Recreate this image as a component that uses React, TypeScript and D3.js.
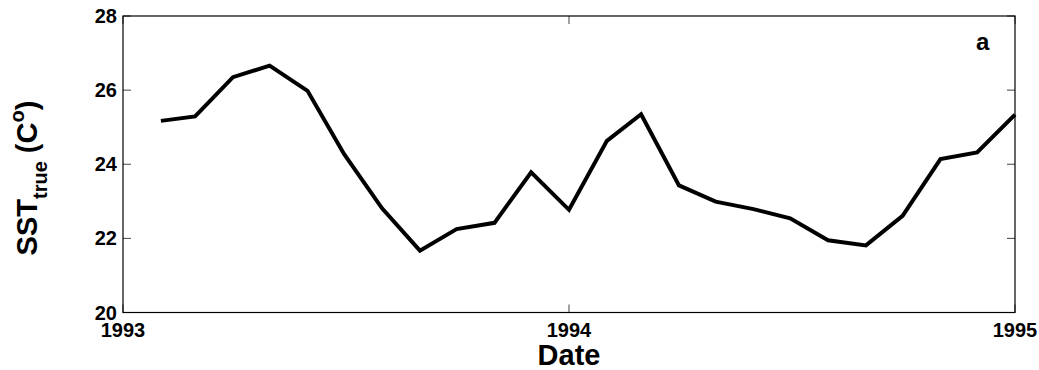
import React from "react";
import * as d3 from "d3";

const dates = [
  "1993-02", "1993-03", "1993-04", "1993-05", "1993-06", "1993-07",
  "1993-08", "1993-09", "1993-10", "1993-11", "1993-12", "1994-01",
  "1994-02", "1994-03", "1994-04", "1994-05", "1994-06", "1994-07",
  "1994-08", "1994-09", "1994-10", "1994-11", "1994-12", "1995-01",
];
const sst = [
  25.17, 25.29, 26.35, 26.66, 25.98, 24.27,
  22.81, 21.67, 22.25, 22.42, 23.78, 22.77,
  24.63, 25.35, 23.43, 22.99, 22.79, 22.54,
  21.95, 21.81, 22.61, 24.14, 24.32, 25.34,
];
const xTickLabels = ["1993", "1994", "1995"];
const yTicks = [20, 22, 24, 26, 28];

const W = 1039;
const H = 370;
const M = { left: 123, right: 1015, top: 16, bottom: 312.5 };
const FONT = "'Liberation Sans', Arial, Helvetica, sans-serif";

export default function App() {
  const parse = d3.timeParse("%Y-%m");
  const parseY = d3.timeParse("%Y");
  const pts = dates.map((d, i) => ({ t: parse(d) as Date, v: sst[i] }));
  const xTicks = xTickLabels.map((s) => parseY(s) as Date);

  const x = d3
    .scaleTime()
    .domain([xTicks[0], xTicks[xTicks.length - 1]])
    .range([M.left, M.right]);
  const y = d3.scaleLinear().domain([20, 28]).range([M.bottom, M.top]);

  const line = d3
    .line<{ t: Date; v: number }>()
    .x((d) => x(d.t))
    .y((d) => y(d.v));

  const tickLen = 8;
  const tickColor = "#444";

  return (
    <svg
      width={W}
      height={H}
      style={{ position: "absolute", left: 0, top: 0, display: "block", background: "#fff" }}
    >
      {yTicks.map((t) => (
        <g key={"y" + t}>
          <line x1={M.left} x2={M.left + tickLen} y1={y(t)} y2={y(t)} stroke={tickColor} strokeWidth={1} />
          <line x1={M.right} x2={M.right - tickLen} y1={y(t)} y2={y(t)} stroke={tickColor} strokeWidth={1} />
          <text
            x={M.left - 6}
            y={y(t) + 7}
            textAnchor="end"
            fontFamily={FONT}
            fontWeight="bold"
            fontSize={20}
            fill="#000"
          >
            {t}
          </text>
        </g>
      ))}
      {xTicks.map((t, i) => (
        <g key={"x" + i}>
          <line x1={x(t)} x2={x(t)} y1={M.bottom} y2={M.bottom - tickLen} stroke={tickColor} strokeWidth={1} />
          <line x1={x(t)} x2={x(t)} y1={M.top} y2={M.top + tickLen} stroke={tickColor} strokeWidth={1} />
          <text
            x={x(t)}
            y={337}
            textAnchor="middle"
            fontFamily={FONT}
            fontWeight="bold"
            fontSize={20}
            fill="#000"
          >
            {xTickLabels[i]}
          </text>
        </g>
      ))}
      <rect
        x={M.left}
        y={M.top}
        width={M.right - M.left}
        height={M.bottom - M.top}
        fill="none"
        stroke="#000"
        strokeWidth={1.2}
      />
      <path
        d={line(pts) || ""}
        fill="none"
        stroke="#000"
        strokeWidth={4}
        strokeLinejoin="miter"
        strokeMiterlimit={4}
      />
      <text x={976} y={50} fontFamily={FONT} fontWeight="bold" fontSize={24} fill="#000">
        a
      </text>
      <text
        x={x(xTicks[1])}
        y={365}
        textAnchor="middle"
        fontFamily={FONT}
        fontWeight="bold"
        fontSize={29}
        fill="#000"
      >
        Date
      </text>
      <text
        transform={`translate(37, 178) rotate(-90)`}
        textAnchor="middle"
        fontFamily={FONT}
        fontWeight="bold"
        fontSize={29}
        fill="#000"
      >
        <tspan>SST</tspan>
        <tspan fontSize={20} dy={10}>true</tspan>
        <tspan dy={-10}> (C</tspan>
        <tspan fontSize={20} dy={-13}>o</tspan>
        <tspan dy={13}>)</tspan>
      </text>
    </svg>
  );
}
